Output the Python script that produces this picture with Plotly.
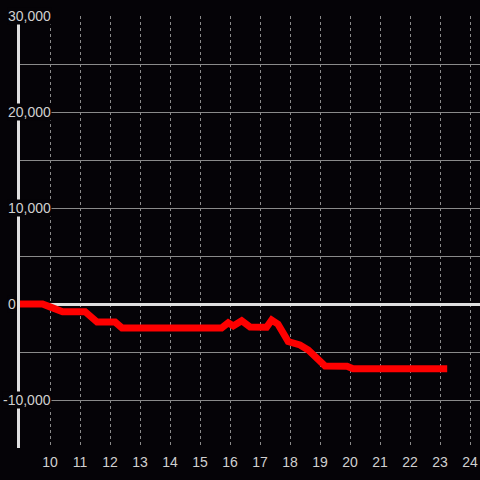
import plotly.graph_objects as go

hours = [9.0, 9.75, 10.0, 10.42, 11.17, 11.4, 11.57, 12.17, 12.4, 15.72, 15.94, 16.11, 16.39,
         16.67, 17.22, 17.39, 17.6, 17.94, 18.33, 18.61, 18.89, 19.17, 19.9, 20.1, 23.24]
values = [0, 0, -300, -800, -800, -1500, -1880, -1880, -2500, -2500, -1950, -2290, -1740,
          -2400, -2430, -1670, -2100, -3920, -4270, -4790, -5560, -6470, -6490, -6750, -6750]

y_ticks = [30000, 20000, 10000, 0, -10000]
y_tick_text = ["30,000", "20,000", "10,000", "0", "-10,000"]
x_ticks = list(range(10, 25))

bg = "#050307"
text_color = "#d0d0d0"
grid_color = "#8a8a8a"
axis_color = "#e0e0e0"

fig = go.Figure()
fig.add_trace(go.Scatter(x=hours, y=values, mode="lines",
                         line=dict(color="#ff0000", width=7), hoverinfo="skip"))

annotations = []
for v, t in zip(y_ticks, y_tick_text):
    annotations.append(dict(
        x=0, xref="paper", y=v, yref="y", text=t, showarrow=False,
        xanchor="left", yanchor="middle", xshift=-13 - (5 if v < 0 else 0),
        font=dict(family="Liberation Sans, Arial, sans-serif", size=14, color=text_color),
        bgcolor=bg, borderpad=0))

fig.update_layout(
    width=480, height=480,
    margin=dict(l=20, r=0, t=16, b=32, autoexpand=False),
    paper_bgcolor=bg, plot_bgcolor=bg,
    showlegend=False,
    font=dict(family="Liberation Sans, Arial, sans-serif", size=14, color=text_color),
    annotations=annotations,
    xaxis=dict(range=[9, 9 + 460 / 30], tickvals=x_ticks, ticktext=[str(h) for h in x_ticks],
               showgrid=True, gridcolor=grid_color, gridwidth=1, griddash="3px,3px",
               zeroline=False, showline=False, ticks="", ticklabelstandoff=4,
               automargin=False, tickfont=dict(size=14, color=text_color)),
    yaxis=dict(range=[-15000, 30000], dtick=5000, tick0=0, showticklabels=False,
               showgrid=True, gridcolor=grid_color, gridwidth=1, automargin=False,
               zeroline=True, zerolinecolor=axis_color, zerolinewidth=3,
               showline=True, linecolor=axis_color, linewidth=3, ticks=""),
)

fig.write_html("out.html", config={"displayModeBar": False},
               post_script="document.body.style.margin='0';document.body.style.background='%s';" % bg)
